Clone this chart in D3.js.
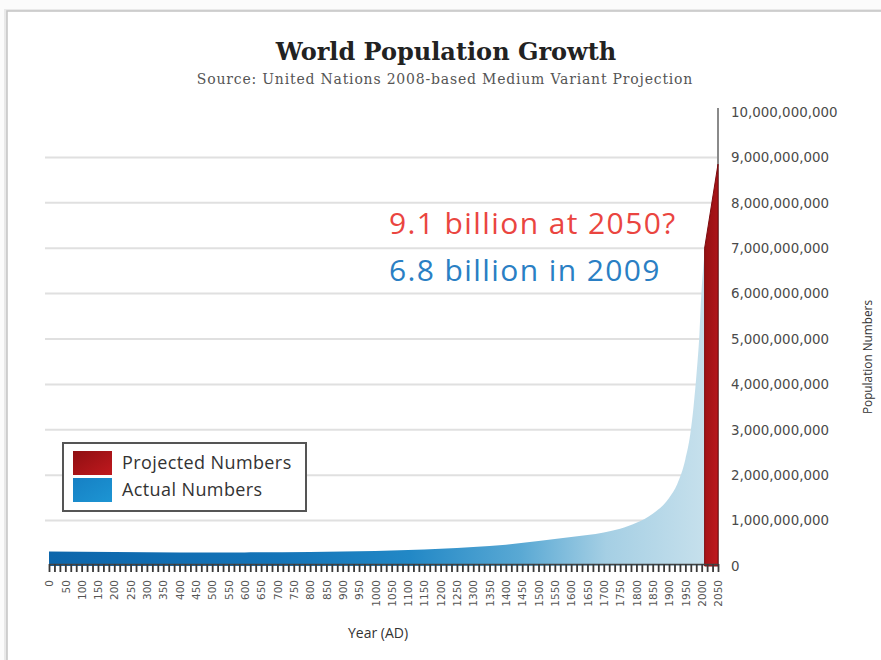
<!DOCTYPE html>
<html>
<head>
<meta charset="utf-8">
<script src="https://cdn.jsdelivr.net/npm/d3@7"></script>
<style>
  body { margin: 0; background: #fff; }
  svg { display: block; }
</style>
</head>
<body>
<div class="plot-container"></div>
<script>
// Actual world population (billions)
const actualYears = [0, 200, 400, 600, 800, 1000, 1100, 1200, 1300, 1400, 1500, 1600, 1700, 1750, 1800, 1850, 1900, 1925, 1950, 1965, 1975, 1985, 1993, 1999, 2004, 2009];
const actualValues = [0.32, 0.31, 0.30, 0.30, 0.31, 0.33, 0.35, 0.38, 0.42, 0.47, 0.55, 0.64, 0.74, 0.82, 0.95, 1.15, 1.5, 1.8, 2.35, 2.9, 3.5, 4.3, 5.1, 6.0, 6.5, 6.9];

// Projected numbers (billions)
const projectedYears = [2009, 2050];
const projectedValues = [7.0, 8.85];

const yTickValues = [0, 1e9, 2e9, 3e9, 4e9, 5e9, 6e9, 7e9, 8e9, 9e9, 10e9];
const gridValues = [1e9, 2e9, 3e9, 4e9, 5e9, 6e9, 7e9, 8e9, 9e9];
const xLabelYears = d3.range(0, 2051, 50);
const xMinorYears = d3.range(0, 2051, 50 / 3);

const legendItems = ["Projected Numbers", "Actual Numbers"];

const width = 881,
  height = 660;

const svg = d3.select("div.plot-container").append("svg")
  .attr("width", width)
  .attr("height", height);

const defs = svg.append("defs");

const x = d3.scaleLinear().domain([0, 2050]).range([49, 718]);
const y = d3.scaleLinear().domain([0, 10e9]).range([566, 112]);

// blue gradient for the actual numbers
const blueGrad = defs.append("linearGradient")
  .attr("id", "blueGrad")
  .attr("gradientUnits", "userSpaceOnUse")
  .attr("x1", x(0)).attr("x2", x(2009))
  .attr("y1", 0).attr("y2", 0);
[
  [0, "#0d66ab"],
  [0.35, "#1474b8"],
  [0.55, "#2288c6"],
  [0.72, "#5aa9d4"],
  [0.85, "#a5cfe4"],
  [1, "#c6e0ec"]
].forEach(([o, c]) => blueGrad.append("stop").attr("offset", o).attr("stop-color", c));

const redGrad = defs.append("linearGradient")
  .attr("id", "redGrad")
  .attr("x1", 0).attr("x2", 1).attr("y1", 0).attr("y2", 1);
redGrad.append("stop").attr("offset", 0).attr("stop-color", "#8f0f12");
redGrad.append("stop").attr("offset", 1).attr("stop-color", "#c0191e");

const swatchBlue = defs.append("linearGradient")
  .attr("id", "swatchBlue")
  .attr("x1", 0).attr("x2", 1).attr("y1", 0).attr("y2", 1);
swatchBlue.append("stop").attr("offset", 0).attr("stop-color", "#1680c4");
swatchBlue.append("stop").attr("offset", 1).attr("stop-color", "#1d95d3");

// frame around the picture
svg.append("rect")
  .attr("x", 0).attr("y", 0)
  .attr("width", width).attr("height", height)
  .attr("fill", "#fbfbfb");
svg.append("rect")
  .attr("x", 4).attr("y", 9)
  .attr("width", 900).attr("height", 700)
  .attr("fill", "#e9e9e9");
svg.append("rect")
  .attr("x", 7).attr("y", 11)
  .attr("width", 900).attr("height", 700)
  .attr("fill", "#fff")
  .attr("stroke", "#c4c4c4")
  .attr("stroke-width", 1.5);

// title
svg.append("text")
  .attr("x", 446).attr("y", 60)
  .attr("text-anchor", "middle")
  .style("font-family", "'DejaVu Serif', serif")
  .style("font-weight", "bold")
  .style("font-size", "24px")
  .attr("fill", "#222")
  .text("World Population Growth");

svg.append("text")
  .attr("x", 445).attr("y", 84)
  .attr("text-anchor", "middle")
  .style("font-family", "'DejaVu Serif', serif")
  .style("font-size", "14px")
  .style("letter-spacing", "0.8px")
  .attr("fill", "#555")
  .text("Source: United Nations 2008-based Medium Variant Projection");

// gridlines
svg.append("g")
  .attr("class", "grid")
  .selectAll("line")
  .data(gridValues)
  .enter()
  .append("line")
  .attr("x1", 45).attr("x2", 717)
  .attr("y1", d => y(d)).attr("y2", d => y(d))
  .attr("stroke", "#e0e0e0")
  .attr("stroke-width", 2);

// actual numbers
const actual = actualYears.map((yr, i) => ({ year: yr, value: actualValues[i] * 1e9 }));
const area = d3.area()
  .x(d => x(d.year))
  .y0(y(0))
  .y1(d => y(d.value))
  .curve(d3.curveMonotoneX);

svg.append("path")
  .datum(actual)
  .attr("d", area)
  .attr("fill", "url(#blueGrad)");

// y axis line
svg.append("line")
  .attr("x1", 718).attr("x2", 718)
  .attr("y1", 108).attr("y2", y(0))
  .attr("stroke", "#8a8a8a")
  .attr("stroke-width", 2);

// projected numbers
const projected = projectedYears.map((yr, i) => ({ year: yr, value: projectedValues[i] * 1e9 }));
svg.append("path")
  .datum(projected)
  .attr("d", d3.area().x(d => x(d.year)).y0(y(0)).y1(d => y(d.value)))
  .attr("fill", "url(#redGrad)")
  .attr("stroke", "#7d0b0e")
  .attr("stroke-width", 1);

// y axis labels
const yAxis = svg.append("g")
  .attr("transform", "translate(718,0)")
  .call(d3.axisRight(y).tickValues(yTickValues).tickFormat(d3.format(",")).tickSize(0).tickPadding(13));
yAxis.select(".domain").remove();
yAxis.selectAll("text")
  .style("font-family", "'DejaVu Sans', sans-serif")
  .style("font-size", "13.4px")
  .attr("fill", "#4a4a4a");

svg.append("text")
  .attr("transform", "translate(872,357) rotate(-90)")
  .attr("text-anchor", "middle")
  .style("font-family", "'Open Sans', sans-serif")
  .style("font-size", "11.8px")
  .attr("fill", "#333")
  .text("Population Numbers");

// x axis minor ticks
const xMinor = svg.append("g")
  .attr("transform", "translate(0,564)")
  .call(d3.axisBottom(x).tickValues(xMinorYears).tickSize(8).tickSizeOuter(0).tickFormat(""));
xMinor.select(".domain").attr("stroke", "#444").attr("stroke-width", 1.5);
xMinor.selectAll(".tick line").attr("stroke", "#3a3a3a").attr("stroke-width", 1.8);

// x axis labels
const xAxis = svg.append("g")
  .attr("transform", "translate(0,566)")
  .call(d3.axisBottom(x).tickValues(xLabelYears).tickSize(0).tickFormat(d3.format("d")));
xAxis.select(".domain").remove();
xAxis.selectAll("text")
  .attr("transform", "rotate(-90)")
  .attr("x", -14)
  .attr("y", 0)
  .attr("dy", "0.35em")
  .attr("text-anchor", "end")
  .style("font-family", "'DejaVu Sans', sans-serif")
  .style("font-size", "10.5px")
  .attr("fill", "#555");

svg.append("text")
  .attr("x", 378).attr("y", 638)
  .attr("text-anchor", "middle")
  .style("font-family", "'Open Sans', sans-serif")
  .style("font-size", "14px")
  .attr("fill", "#333")
  .text("Year (AD)");

// annotations
svg.append("text")
  .attr("x", 389).attr("y", 234)
  .style("font-family", "'Open Sans', sans-serif")
  .style("font-size", "30px")
  .style("letter-spacing", "1.4px")
  .attr("fill", "#ea4540")
  .text("9.1 billion at 2050?");

svg.append("text")
  .attr("x", 389).attr("y", 281)
  .style("font-family", "'Open Sans', sans-serif")
  .style("font-size", "30px")
  .style("letter-spacing", "1.4px")
  .attr("fill", "#2a7fc4")
  .text("6.8 billion in 2009");

// legend
const legend = svg.append("g").attr("transform", "translate(63,443)");
legend.append("rect")
  .attr("width", 243).attr("height", 68)
  .attr("fill", "#fff")
  .attr("stroke", "#555")
  .attr("stroke-width", 2);

const legendRows = legend.selectAll("g.row")
  .data(legendItems)
  .enter()
  .append("g")
  .attr("class", "row")
  .attr("transform", (d, i) => `translate(10,${8 + i * 27})`);

legendRows.append("rect")
  .attr("width", 39).attr("height", 24)
  .attr("fill", (d, i) => i === 0 ? "url(#redGrad)" : "url(#swatchBlue)");

legendRows.append("text")
  .attr("x", 49).attr("y", 18)
  .style("font-family", "'Open Sans', sans-serif")
  .style("font-size", "18px")
  .style("letter-spacing", "0.4px")
  .attr("fill", "#333")
  .text(d => d);
</script>
</body>
</html>
